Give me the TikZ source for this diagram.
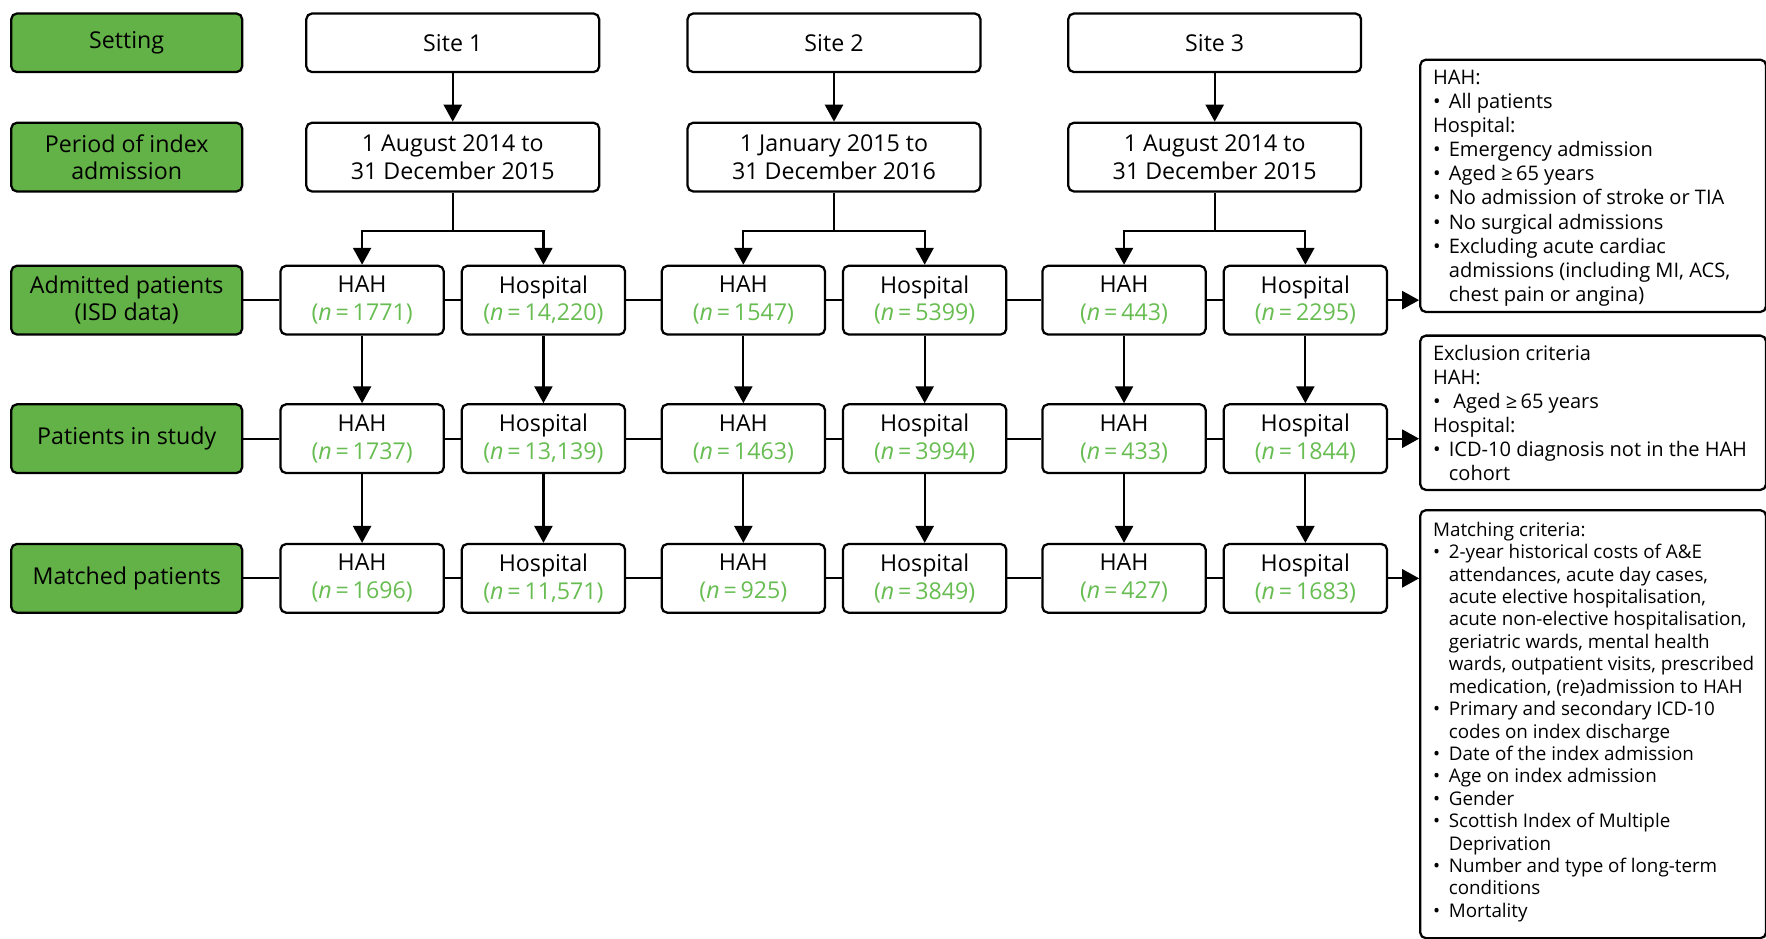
\documentclass[tikz,border=0pt]{standalone}
\usepackage{fontspec}
\setmainfont{Open Sans}
\usetikzlibrary{arrows.meta}
\definecolor{boxgreen}{RGB}{99,178,71}
\definecolor{numgreen}{RGB}{104,189,82}
\newcommand\mainsz{\fontsize{10.3}{12.3}\selectfont}
\newcommand\sidesz{\fontsize{8.9}{10.7}\selectfont}
\newcommand\matchsz{\fontsize{8.35}{9.95}\selectfont}
\newcommand\nm[1]{\textcolor{numgreen}{(\textit{n}\,=\,#1)}}
\newcommand\bul{\makebox[7pt][l]{\textbullet}}
\newcommand\ind{\hspace*{7pt}}
\begin{document}
\begin{tikzpicture}[x=0.5pt,y=-0.5pt,
  gbox/.style={draw=black, fill=boxgreen, rounded corners=2.5pt, line width=1pt, minimum width=102.5pt, minimum height=30.5pt, align=center, inner sep=1pt, font=\mainsz},
  wbox/.style={draw=black, fill=white, rounded corners=2.5pt, line width=1pt, align=center, inner sep=1pt, font=\mainsz},
  sitebox/.style={wbox, minimum width=130pt, minimum height=26pt},
  periodbox/.style={wbox, minimum width=130pt, minimum height=30.5pt},
  cbox/.style={wbox, minimum width=72.5pt, minimum height=30.5pt},
  rbox/.style={draw=black, rounded corners=2.5pt, line width=1pt, minimum width=153.5pt, inner sep=0pt, anchor=north west},
  rtext/.style={anchor=west, align=left, inner sep=0pt},
  arr/.style={-{Triangle[length=7.5pt,width=8pt]}, line width=1pt},
  ln/.style={line width=1pt}]
\useasboundingbox (0,0) rectangle (1568,833);

% left green labels
\node[gbox, minimum height=26pt] (setting) at (112.5,38) {Setting};
\node[gbox] (period) at (112.5,139.5) {Period of index\\admission};
\node[gbox] (admitted) at (112.5,266.5) {Admitted patients\\(ISD data)};
\node[gbox] (study) at (112.5,389.5) {Patients in study};
\node[gbox] (matched) at (112.5,513.5) {Matched patients};

% sites
\node[sitebox] (s1) at (402,38) {Site 1};
\node[sitebox] (s2) at (740.5,38) {Site 2};
\node[sitebox] (s3) at (1078.5,38) {Site 3};
\node[periodbox] (p1) at (402,139.5) {1 August 2014 to\\31 December 2015};
\node[periodbox] (p2) at (740.5,139.5) {1 January 2015 to\\31 December 2016};
\node[periodbox] (p3) at (1078.5,139.5) {1 August 2014 to\\31 December 2015};

% admitted row
\node[cbox] (a1h) at (321.5,266.5) {HAH\\\nm{1771}};
\node[cbox] (a1o) at (482.5,266.5) {Hospital\\\nm{14,220}};
\node[cbox] (a2h) at (660,266.5) {HAH\\\nm{1547}};
\node[cbox] (a2o) at (821,266.5) {Hospital\\\nm{5399}};
\node[cbox] (a3h) at (998,266.5) {HAH\\\nm{443}};
\node[cbox] (a3o) at (1159,266.5) {Hospital\\\nm{2295}};
% study row
\node[cbox] (b1h) at (321.5,389.5) {HAH\\\nm{1737}};
\node[cbox] (b1o) at (482.5,389.5) {Hospital\\\nm{13,139}};
\node[cbox] (b2h) at (660,389.5) {HAH\\\nm{1463}};
\node[cbox] (b2o) at (821,389.5) {Hospital\\\nm{3994}};
\node[cbox] (b3h) at (998,389.5) {HAH\\\nm{433}};
\node[cbox] (b3o) at (1159,389.5) {Hospital\\\nm{1844}};
% matched row
\node[cbox] (c1h) at (321.5,513.5) {HAH\\\nm{1696}};
\node[cbox] (c1o) at (482.5,513.5) {Hospital\\\nm{11,571}};
\node[cbox] (c2h) at (660,513.5) {HAH\\\nm{925}};
\node[cbox] (c2o) at (821,513.5) {Hospital\\\nm{3849}};
\node[cbox] (c3h) at (998,513.5) {HAH\\\nm{427}};
\node[cbox] (c3o) at (1159,513.5) {Hospital\\\nm{1683}};

% right boxes
\node[rbox, minimum height=112pt] (r1) at (1260,52) {};
\node[rbox, minimum height=68.5pt] (r2) at (1260,297) {};
\node[rbox, minimum height=190pt] (r3) at (1260,452) {};

\node[rtext, font=\sidesz] (t1) at ([xshift=6pt,yshift=-1pt]r1.west) {HAH:\\
\bul All patients\\
Hospital:\\
\bul Emergency admission\\
\bul Aged ≥\,65 years\\
\bul No admission of stroke or TIA\\
\bul No surgical admissions\\
\bul Excluding acute cardiac\\
\ind admissions (including MI, ACS,\\
\ind chest pain or angina)};
\node[rtext, font=\sidesz] (t2) at ([xshift=6pt]r2.west) {Exclusion criteria\\
HAH:\\
\makebox[9pt][l]{\textbullet}Aged ≥\,65 years\\
Hospital:\\
\bul ICD-10 diagnosis not in the HAH\\
\ind cohort};
\node[rtext, font=\matchsz] (t3) at ([xshift=6pt,yshift=1pt]r3.west) {Matching criteria:\\
\bul 2-year historical costs of A\&E\\
\ind attendances, acute day cases,\\
\ind acute elective hospitalisation,\\
\ind acute non-elective hospitalisation,\\
\ind geriatric wards, mental health\\
\ind wards, outpatient visits, prescribed\\
\ind medication, (re)admission to HAH\\
\bul Primary and secondary ICD-10\\
\ind codes on index discharge\\
\bul Date of the index admission\\
\bul Age on index admission\\
\bul Gender\\
\bul Scottish Index of Multiple\\
\ind Deprivation\\
\bul Number and type of long-term\\
\ind conditions\\
\bul Mortality};

% split points
\coordinate (k1) at (402,205);
\coordinate (k2) at (740.5,205);
\coordinate (k3) at (1078.5,205);

% site -> period
\draw[arr] (s1) -- (p1);
\draw[arr] (s2) -- (p2);
\draw[arr] (s3) -- (p3);
% period -> split
\draw[ln] (p1) -- (k1);
\draw[ln] (p2) -- (k2);
\draw[ln] (p3) -- (k3);
\draw[arr] (k1) -| (a1h);
\draw[arr] (k1) -| (a1o);
\draw[arr] (k2) -| (a2h);
\draw[arr] (k2) -| (a2o);
\draw[arr] (k3) -| (a3h);
\draw[arr] (k3) -| (a3o);

% vertical
\foreach \s in {1h,1o,2h,2o,3h,3o}{
  \draw[arr] (a\s) -- (b\s);
  \draw[arr] (b\s) -- (c\s);
}

% horizontal
\draw[ln] (admitted) -- (a1h) -- (a1o) -- (a2h) -- (a2o) -- (a3h) -- (a3o);
\draw[ln] (study) -- (b1h) -- (b1o) -- (b2h) -- (b2o) -- (b3h) -- (b3o);
\draw[ln] (matched) -- (c1h) -- (c1o) -- (c2h) -- (c2o) -- (c3h) -- (c3o);
\draw[arr] (a3o.east) -- (a3o.east -| r1.west);
\draw[arr] (b3o.east) -- (b3o.east -| r2.west);
\draw[arr] (c3o.east) -- (c3o.east -| r3.west);
\end{tikzpicture}
\end{document}
